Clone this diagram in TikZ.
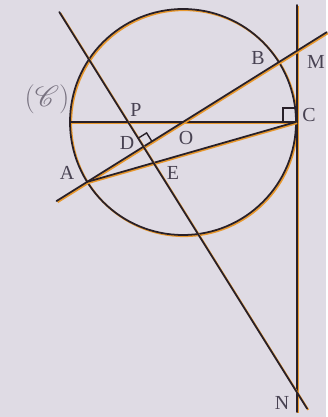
\documentclass[tikz,border=0pt]{standalone}
\usepackage{fontspec}
\setmainfont{Liberation Serif}
\usepackage{mathrsfs}
\usetikzlibrary{calc}

\definecolor{paper}{RGB}{223,219,228}
\definecolor{ink}{RGB}{40,32,40}
\definecolor{misreg}{RGB}{232,152,45}
\definecolor{lbltext}{RGB}{72,66,82}
\definecolor{faint}{RGB}{120,114,128}

\begin{document}
\begin{tikzpicture}[
  x=0.03cm, y=0.03cm,
  geo/.style={draw=ink, line width=1.5pt, line cap=round,
              preaction={draw=misreg, line width=1.6pt,
                         transform canvas={shift={(1.0pt,-1.0pt)}}}},
  rangle/.style={draw=ink, line width=1.2pt},
  lbl/.style={font=\fontsize{17}{17}\selectfont, text=lbltext, inner sep=1pt},
]

% --- fixed bounding box (paper background) ---
\fill[paper] (0,0) rectangle (326,417);

% ============================ POINTS ================================
\coordinate (O) at (183,295);
\coordinate (C) at ($(O)+(0:113)$);
\coordinate (L) at ($(O)+(180:113)$);
\coordinate (A) at ($(O)+(212:113)$);
\coordinate (B) at ($(O)+(32:113)$);
\coordinate (P) at (128,295);
\coordinate (D) at ($(A)!(P)!(B)$);
\coordinate (Ttop) at (297,412);
\coordinate (Tbot) at (297,5);
\coordinate (M) at (intersection of A--B and Ttop--Tbot);
\coordinate (N) at (intersection of P--D and Ttop--Tbot);
\coordinate (E) at (intersection of P--D and A--C);

% ============================ LINES =================================
% circle, diameter and tangent at C
\draw[geo] (O) circle[radius=113];
\draw[geo] (L) -- (C);
\draw[geo] (Ttop) -- (Tbot);

% line AB through O, up to M
\draw[geo] ($(A)!-0.16!(B)$) -- ($(A)!1.25!(B)$);
% chord A -> C
\draw[geo] (A) -- (C);
% perpendicular through P, down to N
\draw[geo] ($(D)!5.45!(P)$) -- ($(P)!1.06!(N)$);

% right angles at C and D
\draw[rangle] ($(C)+(-13,0)$) -- ++(0,14) -- ++(13,0);
\draw[rangle] ($(D)!0.3cm!(B)$) -- ($($(D)!0.3cm!(B)$)+($(D)!0.3cm!(P)$)-(D)$)
              -- ($(D)!0.3cm!(P)$);

% ============================ LABELS ================================
\node[lbl, text=faint, font=\fontsize{25}{25}\selectfont] (lC) at (47,318)
  {$(\mathscr{C})$};
\node[lbl] (lP) at (136,307) {P};
\node[lbl] (lD) at (127,274) {D};
\node[lbl] (lO) at (186,279) {O};
\node[lbl] (lE) at (173,244) {E};
\node[lbl] (lA) at (67,244) {A};
\node[lbl] (lB) at (258,359) {B};
\node[lbl] (lM) at (316,355) {M};
\node[lbl] (lCc) at (309,302) {C};
\node[lbl] (lN) at (282,14) {N};

\end{tikzpicture}
\end{document}
